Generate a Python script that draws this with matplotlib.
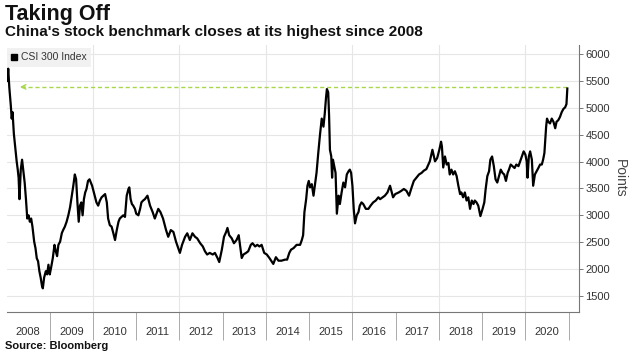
import matplotlib
matplotlib.use("Agg")
import matplotlib.pyplot as plt
from matplotlib.lines import Line2D
import numpy as np

# CSI 300 closes (x = fractional year)
t08 = [2008.02, 2008.04, 2008.065, 2008.10, 2008.12, 2008.14, 2008.17, 2008.20, 2008.235, 2008.26,
       2008.28, 2008.30, 2008.33, 2008.36, 2008.39, 2008.42, 2008.45, 2008.48, 2008.51, 2008.54,
       2008.57, 2008.60, 2008.64, 2008.67, 2008.70, 2008.73, 2008.76, 2008.79, 2008.82, 2008.84,
       2008.87, 2008.91, 2008.94, 2008.97]
v08 = [5500, 5730, 5380, 5040, 4800, 4920, 4520, 4280, 4005, 3850,
       3700, 3300, 3850, 4035, 3820, 3610, 3300, 2940, 3000, 2880,
       2940, 2790, 2510, 2390, 2200, 2145, 1960, 1840, 1690, 1640,
       1840, 1960, 1900, 2080]
t09 = [2009.0, 2009.03, 2009.07, 2009.11, 2009.14, 2009.17, 2009.20, 2009.24, 2009.28, 2009.31,
       2009.35, 2009.39, 2009.43, 2009.47, 2009.51, 2009.545, 2009.58, 2009.61, 2009.64, 2009.67,
       2009.70, 2009.73, 2009.76, 2009.79, 2009.82, 2009.85, 2009.885, 2009.92, 2009.95, 2009.98]
v09 = [1900, 2020, 2200, 2450, 2330, 2240, 2450, 2510, 2670, 2725,
       2790, 2880, 3000, 3150, 3365, 3550, 3760, 3670, 3240, 2880,
       3180, 3240, 3000, 3300, 3425, 3490, 3640, 3670, 3610, 3550]
t10 = [2010.0, 2010.04, 2010.08, 2010.12, 2010.16, 2010.20, 2010.24, 2010.28, 2010.32, 2010.35,
       2010.39, 2010.43, 2010.47, 2010.51, 2010.55, 2010.59, 2010.62, 2010.66, 2010.70, 2010.74,
       2010.78, 2010.82, 2010.84, 2010.87, 2010.90, 2010.93, 2010.97]
v10 = [3490, 3365, 3240, 3180, 3275, 3335, 3365, 3395, 3240, 2940,
       2815, 2790, 2670, 2540, 2725, 2880, 2940, 2970, 3000, 2970,
       3365, 3490, 3520, 3300, 3210, 3180, 3120]
t11 = [2011.0, 2011.05, 2011.09, 2011.12, 2011.16, 2011.20, 2011.26, 2011.32, 2011.38, 2011.43,
       2011.51, 2011.56, 2011.62, 2011.69, 2011.74, 2011.80, 2011.86, 2011.92, 2011.97]
v11 = [3030, 3000, 3120, 3240, 3275, 3300, 3365, 3180, 3060, 2940,
       3120, 3060, 2940, 2725, 2600, 2725, 2690, 2510, 2390]
t12 = [2012.01, 2012.06, 2012.13, 2012.18, 2012.24, 2012.30, 2012.36, 2012.41, 2012.48, 2012.54,
       2012.59, 2012.64, 2012.70, 2012.77, 2012.82, 2012.88, 2012.92, 2012.98]
v12 = [2300, 2450, 2600, 2665, 2540, 2665, 2600, 2570, 2480, 2420,
       2330, 2270, 2300, 2270, 2300, 2205, 2130, 2360]
t13 = [2013.03, 2013.08, 2013.11, 2013.15, 2013.21, 2013.26, 2013.32, 2013.37, 2013.40, 2013.44,
       2013.48, 2013.54, 2013.59, 2013.65, 2013.69, 2013.75, 2013.80, 2013.85, 2013.90, 2013.96]
v13 = [2600, 2690, 2765, 2630, 2570, 2480, 2540, 2630, 2450, 2205,
       2270, 2300, 2330, 2450, 2480, 2420, 2450, 2420, 2450, 2300]
t14 = [2014.02, 2014.08, 2014.13, 2014.17, 2014.23, 2014.29, 2014.36, 2014.44, 2014.49, 2014.54,
       2014.58, 2014.64, 2014.71, 2014.79, 2014.83, 2014.86, 2014.89, 2014.93, 2014.96, 2014.99]
v14 = [2270, 2205, 2145, 2095, 2220, 2155, 2155, 2175, 2175, 2300,
       2360, 2390, 2450, 2450, 2540, 2630, 3060, 3300, 3550, 3640]
t15 = [2015.02, 2015.06, 2015.10, 2015.13, 2015.17, 2015.21, 2015.25, 2015.29, 2015.33, 2015.36,
       2015.39, 2015.41, 2015.44, 2015.46, 2015.48, 2015.51, 2015.53, 2015.55, 2015.58, 2015.61,
       2015.64, 2015.68, 2015.71, 2015.75, 2015.79, 2015.83, 2015.87, 2015.91, 2015.94, 2015.97]
v15 = [3520, 3580, 3365, 3550, 3790, 4160, 4500, 4800, 4650, 4890,
       5195, 5350, 5290, 4860, 4220, 4100, 3700, 4035, 3915, 3790,
       3030, 3365, 3210, 3425, 3610, 3520, 3760, 3820, 3850, 3790]
t16 = [2016.0, 2016.03, 2016.06, 2016.10, 2016.14, 2016.17, 2016.21, 2016.25, 2016.31, 2016.37,
       2016.42, 2016.48, 2016.54, 2016.60, 2016.64, 2016.70, 2016.75, 2016.81, 2016.87, 2016.91,
       2016.94, 2016.99]
v16 = [3550, 3120, 2850, 3000, 3060, 3180, 3240, 3210, 3120, 3120,
       3180, 3240, 3275, 3335, 3300, 3335, 3365, 3425, 3550, 3425,
       3335, 3395]
t17 = [2017.07, 2017.13, 2017.19, 2017.25, 2017.31, 2017.37, 2017.42, 2017.48, 2017.54, 2017.60,
       2017.65, 2017.71, 2017.79, 2017.85, 2017.91, 2017.96]
v17 = [3425, 3455, 3490, 3455, 3365, 3520, 3640, 3700, 3760, 3790,
       3830, 3860, 4005, 4220, 4005, 4065]
t18 = [2018.01, 2018.05, 2018.07, 2018.10, 2018.14, 2018.18, 2018.22, 2018.25, 2018.29, 2018.33,
       2018.37, 2018.41, 2018.45, 2018.49, 2018.52, 2018.56, 2018.60, 2018.64, 2018.68, 2018.72,
       2018.76, 2018.80, 2018.83, 2018.87, 2018.91, 2018.96]
v18 = [4220, 4370, 4280, 3890, 4095, 3945, 3975, 3760, 3850, 3760,
       3820, 3730, 3550, 3395, 3425, 3335, 3425, 3275, 3335, 3120,
       3275, 3210, 3275, 3240, 3180, 2985]
t19 = [2019.01, 2019.05, 2019.08, 2019.12, 2019.16, 2019.19, 2019.23, 2019.27, 2019.31, 2019.35,
       2019.39, 2019.43, 2019.47, 2019.51, 2019.55, 2019.59, 2019.62, 2019.66, 2019.70, 2019.75,
       2019.79, 2019.84, 2019.88, 2019.92, 2019.96]
v19 = [3120, 3240, 3480, 3730, 3820, 4035, 4095, 3915, 3670, 3610,
       3730, 3850, 3790, 3760, 3640, 3790, 3850, 3945, 3915, 3880,
       3945, 3915, 4005, 4095, 4190]
t20 = [2020.0, 2020.03, 2020.05, 2020.08, 2020.11, 2020.15, 2020.18, 2020.22, 2020.26, 2020.30,
       2020.34, 2020.38, 2020.41, 2020.44, 2020.48, 2020.50, 2020.53, 2020.57, 2020.61, 2020.65,
       2020.69, 2020.72, 2020.76, 2020.80, 2020.84, 2020.88, 2020.92, 2020.95, 2020.97]
v20 = [4130, 4005, 3700, 4095, 4190, 4035, 3550, 3760, 3820, 3880,
       3945, 3945, 4035, 4160, 4650, 4800, 4740, 4710, 4800, 4740,
       4620, 4740, 4770, 4830, 4920, 4980, 5010, 5070, 5360]

HIGH_LEVEL = 5390          # dashed "highest" reference line
ARROW_START = 2020.97
ARROW_END = 2008.31
YEARS = list(range(2008, 2021))
Y_TICKS = [1500, 2000, 2500, 3000, 3500, 4000, 4500, 5000, 5500, 6000]

t = np.concatenate([t08, t09, t10, t11, t12, t13, t14, t15, t16, t17, t18, t19, t20])
v = np.concatenate([v08, v09, v10, v11, v12, v13, v14, v15, v16, v17, v18, v19, v20])

plt.rcParams["font.family"] = ["Liberation Sans", "DejaVu Sans"]

W, H = 632, 359
fig = plt.figure(figsize=(W / 100, H / 100), dpi=100)
left, right, top, bottom = 6.5, 579, 45, 312
ax = fig.add_axes([left / W, 1 - bottom / H, (right - left) / W, (bottom - top) / H])

ax.set_xlim(2008.0, 2021.24)
ax.set_ylim(1200, 6170)

# grid
for yv in Y_TICKS:
    ax.axhline(yv, color="#e6e6e6", lw=0.8, zorder=0)
for yr in range(2010, 2021, 2):
    ax.axvline(yr, color="#e6e6e6", lw=0.8, zorder=0)

ax.plot(t, v, color="black", lw=1.6, zorder=3)

# highest-level dashed arrow
ax.plot([ARROW_END + 0.02, ARROW_START], [HIGH_LEVEL, HIGH_LEVEL], color="#a8d84a",
        lw=1.0, ls=(0, (3, 2)), zorder=2)
ax.annotate("", xy=(ARROW_END, HIGH_LEVEL), xytext=(ARROW_END + 0.12, HIGH_LEVEL),
            arrowprops=dict(arrowstyle="->", color="#a8d84a", lw=1.0,
                            shrinkA=0, shrinkB=0, mutation_scale=8), zorder=2)

# spines
for s in ("left", "top"):
    ax.spines[s].set_visible(False)
ax.spines["right"].set_color("#777777")
ax.spines["bottom"].set_color("#777777")
ax.spines["right"].set_linewidth(0.8)
ax.spines["bottom"].set_linewidth(0.8)

# y axis on the right
ax.yaxis.tick_right()
ax.set_yticks(Y_TICKS)
ax.set_yticklabels([str(y) for y in Y_TICKS])
ax.tick_params(axis="y", direction="out", length=3, width=0.7, color="#777777",
               labelsize=8, labelcolor="#333333", pad=1.5)
ax.yaxis.set_label_position("right")
ax.set_ylabel("Points", rotation=270, fontsize=10, color="#444444", labelpad=12)

# x axis: separators at year boundaries, labels centered in year
ax.set_xticks(list(range(2009, 2022)))
ax.set_xticklabels([])
ax.set_xticks([y + 0.5 for y in YEARS], minor=True)
ax.set_xticklabels([str(y) for y in YEARS], minor=True)
ax.tick_params(axis="x", which="major", direction="out", length=20, width=0.7, color="#aaaaaa")
ax.tick_params(axis="x", which="minor", length=0, labelsize=8, labelcolor="#333333", pad=11)

# legend
handle = Line2D([], [], marker="s", color="black", ls="none", markersize=4.5)
leg = ax.legend([handle], ["CSI 300 Index"], loc="upper left", bbox_to_anchor=(0.0, 0.99),
                frameon=True, fancybox=False, fontsize=7.5, handlelength=0.6,
                handletextpad=0.3, borderpad=0.45, borderaxespad=0.0)
leg.get_frame().set_facecolor("#eeeeee")
leg.get_frame().set_edgecolor("none")
for txt in leg.get_texts():
    txt.set_color("#333333")

fig.text(5 / W, 1 - 4 / H, "Taking Off", fontsize=15.5, fontweight="bold", va="top", color="#111111")
fig.text(5 / W, 1 - 25 / H, "China's stock benchmark closes at its highest since 2008",
         fontsize=11, fontweight="bold", va="top", color="#111111")
fig.text(5 / W, 1 - 341 / H, "Source: Bloomberg", fontsize=8, fontweight="bold", va="top",
         color="#111111")

fig.savefig("out.png", dpi=100, facecolor="white")
